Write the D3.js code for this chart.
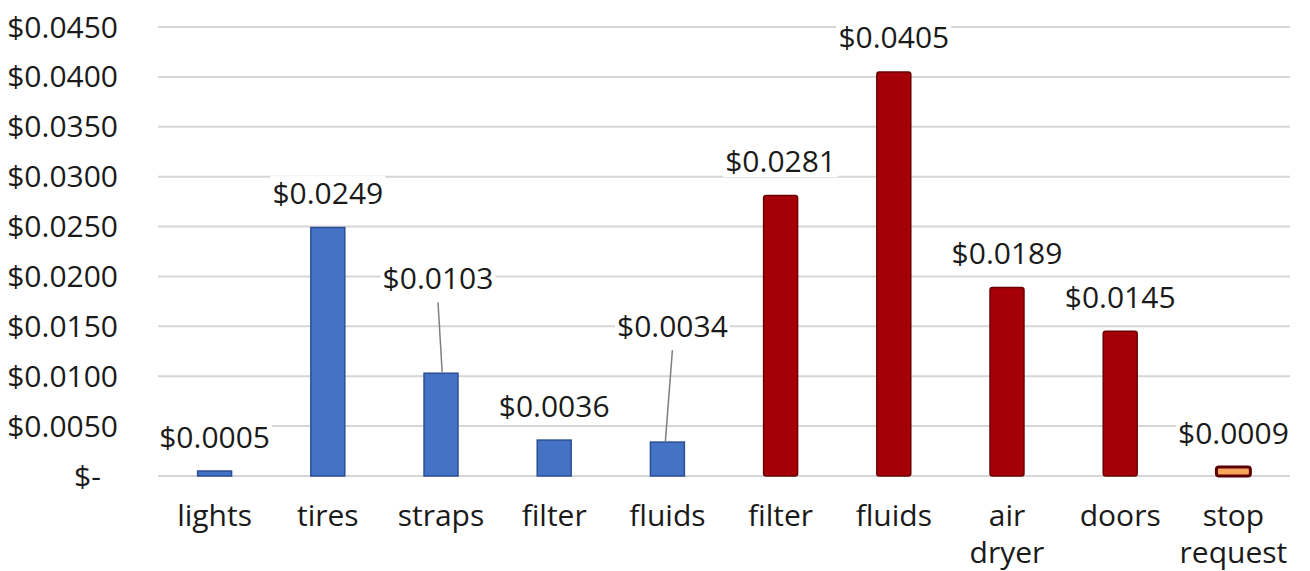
<!DOCTYPE html>
<html lang="en">

<head>
    <meta charset="UTF-8">
    <title>Cost per item</title>
    <script src="https://d3js.org/d3.v7.min.js"></script>
    <style>
        body {
            margin: 0;
            background: #fff;
        }

        text {
            font-family: "Open Sans", sans-serif;
            font-size: 30px;
            fill: #1a1a1a;
        }
    </style>
</head>

<body>
    <svg width="1310" height="571"></svg>

    <script>
        // chart data
        const categories = ["lights", "tires", "straps", "filter", "fluids", "filter", "fluids", "air dryer", "doors", "stop request"];
        const costs = [0.0005, 0.0249, 0.0103, 0.0036, 0.0034, 0.0281, 0.0405, 0.0189, 0.0145, 0.0009];
        const groups = ["blue", "blue", "blue", "blue", "blue", "red", "red", "red", "red", "stop"];
        const yTicks = [0, 0.005, 0.01, 0.015, 0.02, 0.025, 0.03, 0.035, 0.04, 0.045];

        const svg = d3.select("svg");

        const x = d3.scaleBand()
            .domain(d3.range(categories.length))
            .range([158, 1290]);

        const y = d3.scaleLinear()
            .domain([0, 0.045])
            .range([476, 27]);

        const fills = { blue: "#4472C4", red: "#A50008", stop: "#F8A55C" };
        const strokes = { blue: "#2B4F95", red: "#6B0000", stop: "#5C0000" };

        // label nudges for the ones pulled away with a leader line
        const labelShift = { 2: [-3, -61], 4: [5, -82] };

        // gridlines
        svg.append("g")
            .selectAll("line")
            .data(yTicks)
            .enter()
            .append("line")
            .attr("x1", x.range()[0])
            .attr("x2", x.range()[1])
            .attr("y1", d => y(d))
            .attr("y2", d => y(d))
            .attr("stroke", "#d6d6d6")
            .attr("stroke-width", 2);

        // y tick labels
        const fmt = d => d === 0 ? "$-\u2007" : "$" + d.toFixed(4);
        svg.append("g")
            .selectAll("text")
            .data(yTicks)
            .enter()
            .append("text")
            .attr("x", 118)
            .attr("y", d => y(d))
            .attr("dy", "0.35em")
            .attr("text-anchor", "end")
            .text(fmt);

        // bars
        const bw = x.bandwidth() * 0.3;
        svg.append("g")
            .selectAll("rect")
            .data(costs)
            .enter()
            .append("rect")
            .attr("x", (d, i) => x(i) + x.bandwidth() / 2 - bw / 2)
            .attr("y", d => y(d))
            .attr("width", bw)
            .attr("height", d => y(0) - y(d))
            .attr("rx", (d, i) => groups[i] === "blue" ? 0 : 2.5)
            .attr("fill", (d, i) => fills[groups[i]])
            .attr("stroke", (d, i) => strokes[groups[i]])
            .attr("stroke-width", (d, i) => groups[i] === "stop" ? 3 : 1.5);

        // value labels
        const labels = svg.append("g");
        costs.forEach((d, i) => {
            const sh = labelShift[i] || [0, 0];
            const cx = x(i) + x.bandwidth() / 2;
            const lx = cx + sh[0];
            const ly = y(d) - 34 + sh[1];

            if (labelShift[i]) {
                labels.append("line")
                    .attr("x1", lx)
                    .attr("y1", ly + 24)
                    .attr("x2", cx - sh[0] * 0.4)
                    .attr("y2", y(d) - 1)
                    .attr("stroke", "#7f7f7f")
                    .attr("stroke-width", 1.5);
            }

            const t = labels.append("text")
                .attr("x", lx)
                .attr("y", ly)
                .attr("dy", "0.35em")
                .attr("text-anchor", "middle")
                .text("$" + d.toFixed(4));

            const bb = t.node().getBBox();
            labels.insert("rect", () => t.node())
                .attr("x", bb.x - 2)
                .attr("y", bb.y + 4)
                .attr("width", bb.width + 4)
                .attr("height", bb.height - 8)
                .attr("fill", "#fff");
        });

        // category labels, one text per line
        const cat = svg.append("g");
        categories.forEach((d, i) => {
            d.split(" ").forEach((w, j) => {
                cat.append("text")
                    .attr("x", x(i) + x.bandwidth() / 2)
                    .attr("y", 526 + j * 37)
                    .attr("text-anchor", "middle")
                    .text(w);
            });
        });
    </script>
</body>

</html>
